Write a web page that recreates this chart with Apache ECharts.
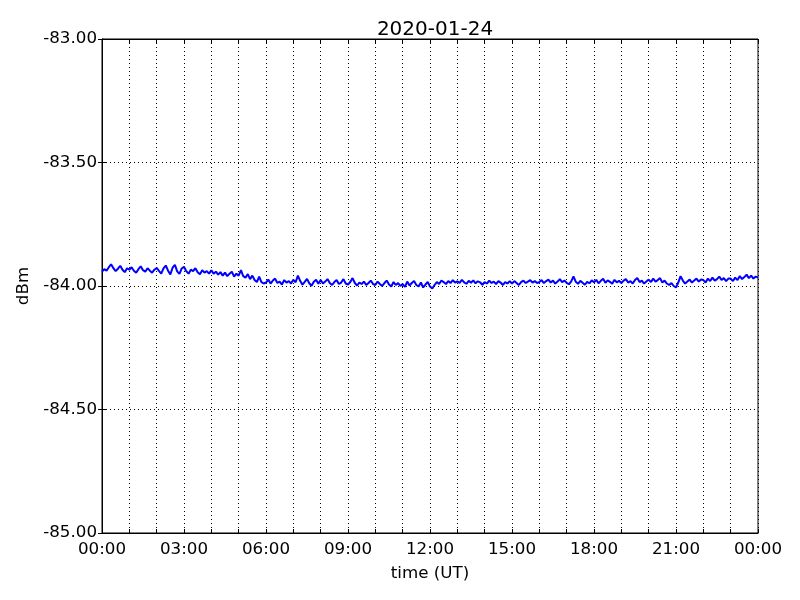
<!DOCTYPE html>
<html>
<head>
<meta charset="utf-8">
<script src="https://cdn.jsdelivr.net/npm/echarts@6/dist/echarts.min.js"></script>
<style>html,body{margin:0;padding:0;background:#fff}#c{width:800px;height:600px}</style>
</head>
<body>
<div id="c"></div>
<script>
const titleText = "2020-01-24";
const xTickLabels = ["00:00","03:00","06:00","09:00","12:00","15:00","18:00","21:00","00:00"];
const sampleMinutes = 5;
// signal level (dBm), one sample every 5 minutes, 00:00 .. 24:00
const dbm = [
-83.942,-83.932,-83.938,-83.924,-83.912,-83.928,-83.940,-83.930,-83.918,-83.934,-83.944,-83.928,
-83.934,-83.924,-83.938,-83.946,-83.932,-83.920,-83.936,-83.942,-83.928,-83.938,-83.946,-83.934,
-83.927,-83.939,-83.950,-83.929,-83.917,-83.938,-83.953,-83.926,-83.914,-83.941,-83.951,-83.929,
-83.922,-83.940,-83.950,-83.934,-83.940,-83.928,-83.944,-83.952,-83.936,-83.946,-83.940,-83.950,
-83.936,-83.950,-83.942,-83.954,-83.944,-83.958,-83.946,-83.960,-83.950,-83.942,-83.962,-83.950,
-83.958,-83.936,-83.960,-83.966,-83.952,-83.972,-83.958,-83.976,-83.984,-83.962,-83.984,-83.990,
-83.986,-83.974,-83.990,-83.978,-83.970,-83.988,-83.982,-83.994,-83.976,-83.986,-83.980,-83.990,
-83.975,-83.985,-83.958,-83.979,-83.995,-83.983,-83.971,-83.989,-83.999,-83.983,-83.975,-83.991,
-83.976,-83.990,-83.982,-83.972,-83.988,-83.996,-83.984,-83.976,-83.992,-83.986,-83.972,-83.990,
-83.994,-83.984,-83.968,-83.988,-83.998,-83.986,-83.992,-83.982,-83.996,-83.988,-83.978,-83.992,
-83.996,-83.982,-83.992,-84.000,-83.988,-83.978,-83.994,-84.002,-83.984,-83.996,-83.988,-84.000,
-83.992,-84.004,-83.982,-83.998,-83.988,-83.980,-83.996,-84.002,-83.986,-84.006,-83.994,-83.984,
-84.002,-84.010,-83.996,-83.984,-83.992,-83.978,-83.984,-83.992,-83.980,-83.988,-83.976,-83.986,
-83.981,-83.987,-83.975,-83.985,-83.991,-83.979,-83.987,-83.977,-83.989,-83.981,-83.985,-83.995,
-83.984,-83.990,-83.978,-83.988,-83.982,-83.992,-83.980,-83.986,-83.996,-83.984,-83.990,-83.980,
-83.990,-83.980,-83.988,-83.996,-83.984,-83.978,-83.988,-83.982,-83.976,-83.986,-83.980,-83.988,
-83.984,-83.976,-83.988,-83.980,-83.974,-83.986,-83.978,-83.990,-83.982,-83.972,-83.984,-83.978,
-83.987,-83.993,-83.981,-83.961,-83.983,-83.991,-83.979,-83.987,-83.995,-83.983,-83.989,-83.977,
-83.985,-83.975,-83.989,-83.979,-83.971,-83.987,-83.977,-83.983,-83.991,-83.975,-83.985,-83.979,
-83.988,-83.978,-83.972,-83.986,-83.980,-83.990,-83.976,-83.968,-83.984,-83.978,-83.990,-83.982,
-83.974,-83.984,-83.970,-83.982,-83.976,-83.968,-83.986,-83.978,-83.990,-83.996,-83.988,-84.000,
-84.006,-83.986,-83.960,-83.978,-83.990,-83.982,-83.974,-83.986,-83.978,-83.970,-83.982,-83.974,
-83.976,-83.986,-83.970,-83.980,-83.966,-83.978,-83.972,-83.962,-83.976,-83.968,-83.980,-83.970,
-83.970,-83.980,-83.966,-83.976,-83.960,-83.972,-83.964,-83.954,-83.968,-83.958,-83.970,-83.962,
-83.966
];
const yMin = -85, yMax = -83, yStep = 0.5;

const seriesData = dbm.map((v, i) => [i * sampleMinutes / 60, v]);
const FONT = "DejaVu Sans";
const chart = echarts.init(document.getElementById('c'), null, {renderer: 'canvas'});
const dotted = {color: '#000', width: 1, type: [1, 3]};
chart.setOption({
  animation: false,
  backgroundColor: '#fff',
  title: {
    text: titleText, left: 430, top: 15, textAlign: 'center',
    textStyle: {fontFamily: FONT, fontSize: 20, fontWeight: 'normal', color: '#000'}
  },
  grid: {left: 102, right: 42, top: 39, bottom: 67, show: true, borderColor: '#000', borderWidth: 1, containLabel: false},
  xAxis: [{
    type: 'value', min: 0, max: 24, interval: 1,
    name: 'time (UT)', nameLocation: 'middle', nameGap: 32,
    nameTextStyle: {fontFamily: FONT, fontSize: 16.7, color: '#000'},
    axisLine: {show: true, lineStyle: {color: '#000', width: 1}},
    axisTick: {show: true, inside: true, length: 4, lineStyle: {color: '#000'}},
    axisLabel: {
      fontFamily: FONT, fontSize: 16.7, color: '#000', margin: 8,
      formatter: v => (v % 3 === 0 ? xTickLabels[v / 3] : '')
    },
    splitLine: {show: true, lineStyle: dotted}
  }, {
    type: 'value', min: 0, max: 24, interval: 1, position: 'top',
    axisLine: {show: true, lineStyle: {color: '#000'}},
    axisTick: {show: true, inside: true, length: 4, lineStyle: {color: '#000'}},
    axisLabel: {show: false}, splitLine: {show: false}
  }],
  yAxis: [{
    type: 'value', min: yMin, max: yMax, interval: yStep,
    name: 'dBm', nameLocation: 'middle', nameGap: 66,
    nameTextStyle: {fontFamily: FONT, fontSize: 16.7, color: '#000'},
    axisLine: {show: true, lineStyle: {color: '#000', width: 1}},
    axisTick: {show: true, inside: true, length: 4, lineStyle: {color: '#000'}},
    axisLabel: {fontFamily: FONT, fontSize: 16.7, color: '#000', margin: 5, formatter: v => v.toFixed(2)},
    splitLine: {show: true, lineStyle: dotted}
  }, {
    type: 'value', min: yMin, max: yMax, interval: yStep, position: 'right',
    axisLine: {show: true, lineStyle: {color: '#000'}},
    axisTick: {show: true, inside: true, length: 4, lineStyle: {color: '#000'}},
    axisLabel: {show: false}, splitLine: {show: false}
  }],
  series: [{
    type: 'line', data: seriesData, xAxisIndex: 0, yAxisIndex: 0,
    showSymbol: false, symbol: 'none',
    lineStyle: {color: '#0000ff', width: 2}
  }]
});
</script>
</body>
</html>
